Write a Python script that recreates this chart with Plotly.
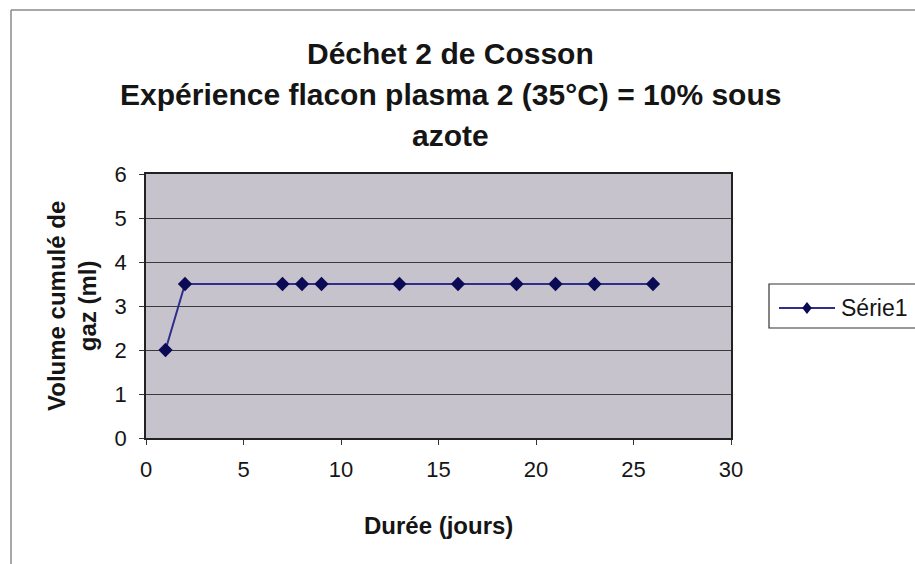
import plotly.graph_objects as go

# Cumulative gas volume measurements
jours = [1, 2, 7, 8, 9, 13, 16, 19, 21, 23, 26]
volume_ml = [2.0, 3.5, 3.5, 3.5, 3.5, 3.5, 3.5, 3.5, 3.5, 3.5, 3.5]
serie_name = "Série1"
y_ticks = [0, 1, 2, 3, 4, 5, 6]
x_ticks = [0, 5, 10, 15, 20, 25, 30]

title_lines = [
    "Déchet 2 de Cosson",
    "Expérience flacon plasma 2 (35°C) = 10% sous",
    "azote",
]

W, H = 915, 564
L, R, T, B = 146, 731, 174, 438

font_family = "Liberation Sans, Arial, sans-serif"
ink = "#151515"
line_color = "#2e2e8c"
marker_color = "#0b0b55"


def px_x(px):
    return (px - L) / (R - L)


def px_y(py):
    return (B - py) / (B - T)


fig = go.Figure()
fig.add_trace(go.Scatter(
    x=jours, y=volume_ml, mode="lines+markers", name=serie_name,
    line=dict(color=line_color, width=2),
    marker=dict(symbol="diamond", size=11, color=marker_color),
    showlegend=False,
))

annotations = []
for line, yc in zip(title_lines, [53, 94, 135]):
    annotations.append(dict(
        text=f"<b>{line}</b>", xref="paper", yref="paper",
        x=px_x(450), y=px_y(yc), xanchor="center", yanchor="middle",
        showarrow=False, font=dict(size=30, family=font_family, color=ink),
    ))
annotations.append(dict(
    text="<b>Volume cumulé de<br>gaz (ml)</b>", xref="paper", yref="paper",
    x=px_x(72), y=px_y(306), xanchor="center", yanchor="middle",
    textangle=-90, showarrow=False,
    font=dict(size=24, family=font_family, color=ink),
))
annotations.append(dict(
    text="<b>Durée (jours)</b>", xref="paper", yref="paper",
    x=px_x(438), y=px_y(525), xanchor="center", yanchor="middle",
    showarrow=False, font=dict(size=24, family=font_family, color=ink),
))

# Legend box drawn by hand so it can run off the right edge of the chart
leg_y = 308
annotations.append(dict(
    text=serie_name, xref="paper", yref="paper",
    x=px_x(839), y=px_y(leg_y), xanchor="left", yanchor="middle",
    showarrow=False, font=dict(size=23, family=font_family, color=ink),
))


def diamond_path(cx, cy, r):
    pts = [(cx, cy - r), (cx + r * 0.8, cy), (cx, cy + r), (cx - r * 0.8, cy)]
    d = "M " + " L ".join(f"{px_x(x):.5f},{px_y(y):.5f}" for x, y in pts) + " Z"
    return d


shapes = [
    # outer chart frame
    dict(type="line", xref="paper", yref="paper",
         x0=px_x(11), x1=px_x(915), y0=px_y(10), y1=px_y(10),
         line=dict(color="#8a8a8a", width=1.5)),
    dict(type="line", xref="paper", yref="paper",
         x0=px_x(11), x1=px_x(11), y0=px_y(10), y1=px_y(564),
         line=dict(color="#8a8a8a", width=1.5)),
    # legend frame and sample
    dict(type="rect", xref="paper", yref="paper",
         x0=px_x(769), x1=px_x(930), y0=px_y(328), y1=px_y(284),
         fillcolor="white", line=dict(color="#333333", width=1.2)),
    dict(type="line", xref="paper", yref="paper",
         x0=px_x(779), x1=px_x(835), y0=px_y(leg_y), y1=px_y(leg_y),
         line=dict(color=line_color, width=2)),
    dict(type="path", xref="paper", yref="paper", path=diamond_path(807, leg_y, 6),
         fillcolor=marker_color, line=dict(color=marker_color, width=0)),
]

fig.update_layout(
    width=W, height=H,
    margin=dict(l=L, r=W - R, t=T, b=H - B, pad=0),
    paper_bgcolor="white",
    plot_bgcolor="#c6c3cc",
    font=dict(family=font_family, color=ink, size=22),
    showlegend=False,
    xaxis=dict(
        range=[0, 30], tickvals=x_ticks, ticks="outside", ticklen=5,
        tickcolor="#333333", showline=True, linecolor="#222222", linewidth=1.5,
        mirror=True, showgrid=False, zeroline=False,
        tickfont=dict(size=22), ticklabelstandoff=6,
    ),
    yaxis=dict(
        range=[0, 6], tickvals=y_ticks, ticks="outside", ticklen=5,
        tickcolor="#333333", showline=True, linecolor="#222222", linewidth=1.5,
        mirror=True, showgrid=True, gridcolor="#3a3a3a", gridwidth=1,
        zeroline=False, tickfont=dict(size=22), ticklabelstandoff=8,
    ),
    annotations=annotations,
    shapes=shapes,
)

fig.write_html("out.html")
